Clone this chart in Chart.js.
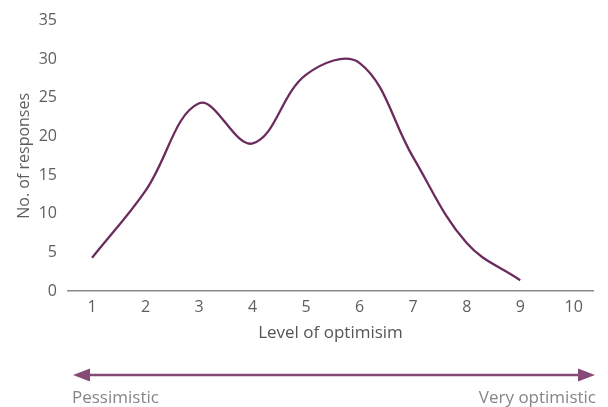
<!DOCTYPE html>
<html>
<head>
<meta charset="utf-8">
<script src="https://cdn.jsdelivr.net/npm/chart.js@4"></script>
<style>
  html, body { margin: 0; padding: 0; background: #fff; }
  #wrap { position: relative; width: 608px; height: 407px; }
</style>
</head>
<body>
<div id="wrap"><canvas id="myChart" width="608" height="407"></canvas></div>
<script>
// level of optimism (x) and number of responses (y)
const levels = [1, 2, 3, 4, 5, 6, 7, 8, 9];
const responses = [4.3, 13, 24.3, 19.1, 28, 29.5, 17.3, 6.2, 1.4];
const xTicks = [1, 2, 3, 4, 5, 6, 7, 8, 9, 10];
const yTicks = [0, 5, 10, 15, 20, 25, 30, 35];
const leftLabel = "Pessimistic";
const rightLabel = "Very optimistic";

const lineColor = "#6b2b5c";
const arrowColor = "#874a77";
const textColor = "#5e5e5e";
const fontName = "'Open Sans', 'DejaVu Sans', sans-serif";

// arrow + end labels under the x axis
const arrowPlugin = {
    id: 'arrowPlugin',
    afterDraw(chart) {
        const ctx = chart.ctx;
        const x0 = 73, x1 = 595, y = 375, head = 17, hw = 6.5;
        ctx.save();
        ctx.strokeStyle = arrowColor;
        ctx.fillStyle = arrowColor;
        ctx.lineWidth = 2.5;
        ctx.beginPath();
        ctx.moveTo(x0 + head - 2, y);
        ctx.lineTo(x1 - head + 2, y);
        ctx.stroke();
        // left head
        ctx.beginPath();
        ctx.moveTo(x0, y);
        ctx.lineTo(x0 + head, y - hw);
        ctx.lineTo(x0 + head, y + hw);
        ctx.closePath();
        ctx.fill();
        // right head
        ctx.beginPath();
        ctx.moveTo(x1, y);
        ctx.lineTo(x1 - head, y - hw);
        ctx.lineTo(x1 - head, y + hw);
        ctx.closePath();
        ctx.fill();

        ctx.fillStyle = "#858585";
        ctx.font = "17px " + fontName;
        ctx.textBaseline = "middle";
        ctx.textAlign = "left";
        ctx.fillText(leftLabel, 72, 398);
        ctx.textAlign = "right";
        ctx.fillText(rightLabel, 596, 398);
        ctx.restore();
    }
};

const ctx = document.getElementById('myChart').getContext('2d');
const chart = new Chart(ctx, {
    type: 'line',
    data: {
        datasets: [{
            label: 'No. of responses',
            data: levels.map((l, i) => ({ x: l, y: responses[i] })),
            borderColor: lineColor,
            borderWidth: 2.3,
            pointRadius: 0,
            tension: 0.38,
            fill: false
        }]
    },
    options: {
        responsive: false,
        animation: false,
        layout: { padding: { left: 0, right: 15, top: 9, bottom: 0 } },
        plugins: {
            legend: { display: false },
            tooltip: { enabled: false }
        },
        scales: {
            x: {
                type: 'linear',
                min: 0.55,
                max: 10.36,
                afterBuildTicks: (axis) => { axis.ticks = xTicks.map(v => ({ value: v })); },
                afterFit: (axis) => { axis.height = 116; },
                grid: { display: false, drawTicks: false },
                border: { display: true, color: "#8a8a8a", width: 1.5 },
                ticks: {
                    color: textColor,
                    font: { family: fontName, size: 16 },
                    padding: 7,
                    autoSkip: false,
                    maxRotation: 0
                },
                title: {
                    display: true,
                    text: 'Level of optimisim',
                    color: "#555",
                    font: { family: fontName, size: 17, weight: '500' },
                    padding: { top: 0, bottom: 64 }
                }
            },
            y: {
                min: 0,
                max: 35,
                afterBuildTicks: (axis) => { axis.ticks = yTicks.map(v => ({ value: v })); },
                afterFit: (axis) => { axis.width = 68; },
                grid: { display: false, drawTicks: false },
                border: { display: false },
                ticks: {
                    color: textColor,
                    font: { family: fontName, size: 16 },
                    padding: 11
                },
                title: {
                    display: true,
                    text: 'No. of responses',
                    color: textColor,
                    font: { family: fontName, size: 16 },
                    padding: { top: 15, bottom: 0 }
                }
            }
        }
    },
    plugins: [arrowPlugin]
});
</script>
</body>
</html>
